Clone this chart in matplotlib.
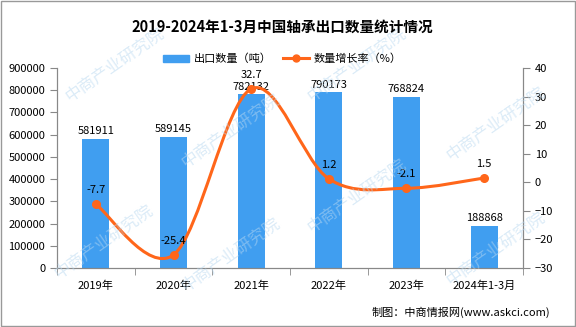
import numpy as np
import matplotlib
matplotlib.use('Agg')
import matplotlib.pyplot as plt
from matplotlib.path import Path
from matplotlib.patches import PathPatch, Rectangle, Patch
from matplotlib.lines import Line2D

plt.rcParams['font.family'] = ['Noto Sans CJK SC', 'DejaVu Sans']

### Data
years = ['2019年', '2020年', '2021年', '2022年', '2023年', '2024年1-3月']
export_tons = [581911, 589145, 782132, 790173, 768824, 188868]
growth_pct = [-7.7, -25.4, 32.7, 1.2, -2.1, 1.5]

bar_color = '#409EF0'
line_color = '#FF661A'

### Figure
fig = plt.figure(figsize=(5.76, 3.27), dpi=100)
ax = fig.add_axes([57 / 576, 1 - 268 / 327, (523 - 57) / 576, (268 - 68) / 327])
ax2 = ax.twinx()

x = np.arange(len(years))
ax.bar(x, export_tons, width=0.35, color=bar_color, zorder=2)
for xi, v in zip(x, export_tons):
    ax.text(xi, v + 12000, str(v), ha='center', va='bottom', fontsize=8, zorder=5)

ax.set_xlim(-0.5, len(years) - 0.5)
ax.set_ylim(0, 900000)
ax.set_yticks(np.arange(0, 900001, 100000))
ax.set_yticklabels([str(t) for t in range(0, 900001, 100000)])
ax.set_xticks(x)
ax.set_xticklabels(years)
ax.set_xticks(np.arange(-0.5, len(years), 1), minor=True)
ax.tick_params(axis='x', which='major', length=0, labelsize=8, pad=9)
ax.tick_params(axis='x', which='minor', length=5, color='#888888')
ax.tick_params(axis='y', length=5, labelsize=8, color='#888888')

# smooth growth line (Catmull-Rom curve through the points)
pts = np.column_stack([x, growth_pct]).astype(float)
verts = [tuple(pts[0])]
codes = [Path.MOVETO]
for i in range(len(pts) - 1):
    p0 = pts[i - 1] if i > 0 else pts[i]
    p1 = pts[i]
    p2 = pts[i + 1]
    p3 = pts[i + 2] if i + 2 < len(pts) else pts[i + 1]
    c1 = p1 + (p2 - p0) / 6
    c2 = p2 - (p3 - p1) / 6
    verts += [tuple(c1), tuple(c2), tuple(p2)]
    codes += [Path.CURVE4] * 3
ax2.add_patch(PathPatch(Path(verts, codes), fill=False, edgecolor=line_color, lw=2.2, zorder=3))
ax2.plot(x, growth_pct, 'o', color=line_color, markersize=5.5, zorder=4)
for xi, v in zip(x, growth_pct):
    ax2.text(xi, v + 3.2, str(v), ha='center', va='bottom', fontsize=8, zorder=5)

ax2.set_ylim(-30, 40)
ax2.set_yticks(np.arange(-30, 41, 10))
ax2.tick_params(axis='y', length=5, labelsize=8, color='#888888')

for a in (ax, ax2):
    a.spines['top'].set_visible(False)
    for s in ('left', 'right', 'bottom'):
        a.spines[s].set_color('#888888')

# legend
handles = [Patch(color=bar_color, label='出口数量（吨）'),
           Line2D([0], [0], color=line_color, lw=2.2, marker='o', markersize=5, label='数量增长率（%）')]
fig.legend(handles=handles, loc='center', bbox_to_anchor=(0.49, 1 - 59 / 327), ncol=2,
           frameon=False, fontsize=8, handlelength=2.4, columnspacing=1.0, handletextpad=0.4)

fig.text(0.49, 1 - 27 / 327, '2019-2024年1-3月中国轴承出口数量统计情况', ha='center', va='center',
         fontsize=10.5, fontweight='bold')
fig.text(0.955, 1 - 312 / 327, '制图：中商情报网(www.askci.com)', ha='right', va='center', fontsize=8)

# watermark
for wx, wy in [(0.20, 0.80), (0.40, 0.60), (0.18, 0.26), (0.62, 0.80),
               (0.62, 0.40), (0.86, 0.62), (0.40, 0.22), (0.86, 0.24)]:
    fig.text(wx, wy, '中商产业研究院', rotation=35, fontsize=12, color='#B8D8F0', alpha=0.5,
             ha='center', va='center', zorder=0)

fig.patches.append(Rectangle((0.002, 0.003), 0.996, 0.994, transform=fig.transFigure,
                             fill=False, edgecolor='#999999', lw=1))

fig.savefig('out.png', dpi=100)
